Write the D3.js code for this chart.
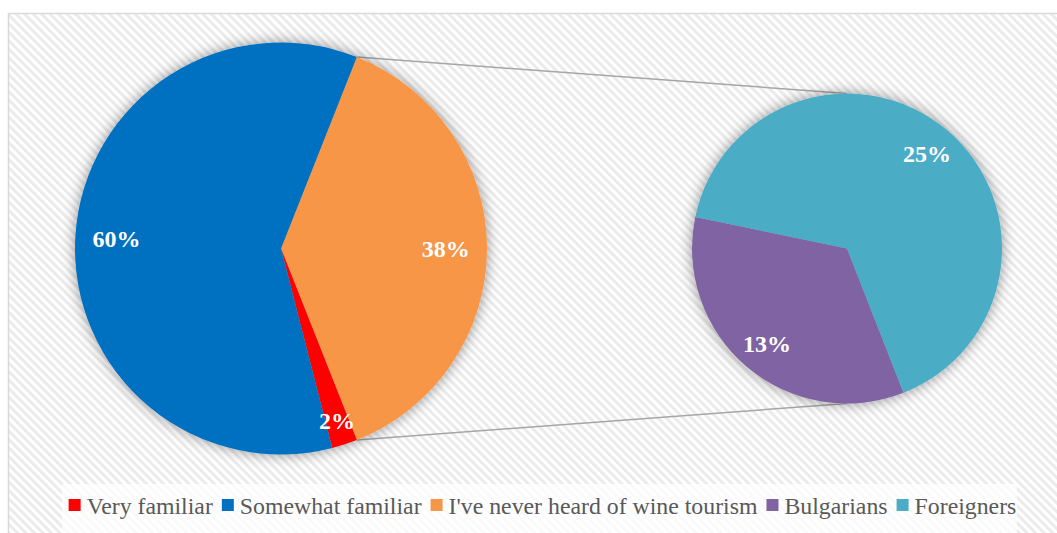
<!DOCTYPE html>
<html><head><meta charset="utf-8">
<script src="https://cdn.jsdelivr.net/npm/d3@7"></script>
<style>html,body{margin:0;padding:0;background:#fff;}svg{display:block;}</style>
</head><body>
<script>
// ---- data ----
const mainCategories = ["I've never heard of wine tourism", "Very familiar", "Somewhat familiar"];
const mainValues = [38, 2, 60];
const mainColors = ["#F79646", "#FF0000", "#0070C0"];
const subCategories = ["Bulgarians", "Foreigners"];
const subValues = [13, 25];
const subColors = ["#8064A2", "#4BACC6"];
const legendLabels = ["Very familiar", "Somewhat familiar", "I've never heard of wine tourism", "Bulgarians", "Foreigners"];
const legendColors = ["#FF0000", "#0070C0", "#F79646", "#8064A2", "#4BACC6"];

const W = 1057, H = 533;
const svg = d3.select("body").append("svg").attr("width", W).attr("height", H);
const defs = svg.append("defs");

// stripe pattern
const pat = defs.append("pattern").attr("id", "stripes").attr("patternUnits", "userSpaceOnUse")
  .attr("width", 6).attr("height", 6).attr("patternTransform", "rotate(-45)");
pat.append("rect").attr("width", 6).attr("height", 6).attr("fill", "#FFFFFF");
pat.append("rect").attr("width", 3).attr("height", 6).attr("fill", "#EBEBEB");

// shadow filter
const f = defs.append("filter").attr("id", "shadow").attr("x", "-20%").attr("y", "-20%").attr("width", "140%").attr("height", "140%");
f.append("feGaussianBlur").attr("in", "SourceAlpha").attr("stdDeviation", 7).attr("result", "b");
f.append("feFlood").attr("flood-color", "#000").attr("flood-opacity", 0.42).attr("result", "c");
f.append("feComposite").attr("in", "c").attr("in2", "b").attr("operator", "in").attr("result", "s");
const m = f.append("feMerge");
m.append("feMergeNode").attr("in", "s");
m.append("feMergeNode").attr("in", "SourceGraphic");

// background
svg.append("rect").attr("x", 8.5).attr("y", 13.5).attr("width", 1100).attr("height", 600)
  .attr("fill", "url(#stripes)").attr("stroke", "#D9D9D9").attr("stroke-width", 1.5);

const deg = Math.PI / 180;
const c1 = [281, 248.5], r1 = 206;
const c2 = [847, 248.5], r2 = 155;

const mainTotal = d3.sum(mainValues);
const otherFrac = mainValues[0] / mainTotal;
const pie1 = d3.pie().sort(null).value(d => d)
  .startAngle(Math.PI / 2 - otherFrac * Math.PI)
  .endAngle(Math.PI / 2 - otherFrac * Math.PI + 2 * Math.PI);
const arcs1 = pie1(mainValues);

const pie2 = d3.pie().sort(null).value(d => d)
  .startAngle(158.6 * deg).endAngle(158.6 * deg + 2 * Math.PI);
const arcs2 = pie2(subValues);

// connector lines
const a0 = arcs1[0].startAngle, a1 = arcs1[0].endAngle;
const pt = (c, r, a) => [c[0] + r * Math.sin(a), c[1] - r * Math.cos(a)];
const lines = [[pt(c1, r1, a0), [c2[0], c2[1] - r2]], [pt(c1, r1, a1), [c2[0], c2[1] + r2]]];
svg.selectAll("line.conn").data(lines).enter().append("line")
  .attr("x1", d => d[0][0]).attr("y1", d => d[0][1]).attr("x2", d => d[1][0]).attr("y2", d => d[1][1])
  .attr("stroke", "#A6A6A6").attr("stroke-width", 1.5);

const arcGen1 = d3.arc().innerRadius(0).outerRadius(r1);
const arcGen2 = d3.arc().innerRadius(0).outerRadius(r2);

const g1 = svg.append("g").attr("transform", `translate(${c1})`);
g1.append("g").attr("filter", "url(#shadow)").selectAll("path").data(arcs1).enter().append("path")
  .attr("d", arcGen1).attr("fill", (d, i) => mainColors[i]);

const g2 = svg.append("g").attr("transform", `translate(${c2})`);
g2.append("g").attr("filter", "url(#shadow)").selectAll("path").data(arcs2).enter().append("path")
  .attr("d", arcGen2).attr("fill", (d, i) => subColors[i]);

// labels
function label(g, arcs, r, factors) {
  g.selectAll("text.lbl").data(arcs).enter().append("text")
    .attr("class", "lbl")
    .attr("x", (d, i) => { const a = (d.startAngle + d.endAngle) / 2; return r * factors[i] * Math.sin(a); })
    .attr("y", (d, i) => { const a = (d.startAngle + d.endAngle) / 2; return -r * factors[i] * Math.cos(a); })
    .attr("dy", "0.35em").attr("text-anchor", "middle")
    .attr("font-family", "'Liberation Serif', 'Times New Roman', serif").attr("font-weight", "bold")
    .attr("font-size", 24).attr("fill", "#FFFFFF")
    .text(d => d.data + "%");
}
label(g1, arcs1, r1, [0.8, 0.88, 0.8]);
label(g2, arcs2, r2, [0.8, 0.8]);

// legend
svg.append("rect").attr("x", 62).attr("y", 484).attr("width", 955).attr("height", 60)
  .attr("fill", "#FFFFFF").attr("fill-opacity", 0.75);
const lg = svg.append("g");
const items = lg.selectAll("g").data(legendLabels).enter().append("g");
items.append("rect").attr("width", 12).attr("height", 12).attr("y", 499).attr("fill", (d, i) => legendColors[i]);
items.append("text").attr("x", 18).attr("y", 513.5)
  .attr("font-family", "'Liberation Serif', 'Times New Roman', serif").attr("font-size", 23.8)
  .attr("fill", "#595959").text(d => d);
let widths = [];
items.each(function () { widths.push(18 + d3.select(this).select("text").node().getComputedTextLength()); });
const gap = 9;
const total = d3.sum(widths) + gap * (widths.length - 1);
let x = 542.5 - total / 2;
items.each(function (d, i) { d3.select(this).attr("transform", `translate(${x},0)`); x += widths[i] + gap; });
</script>
</body></html>
